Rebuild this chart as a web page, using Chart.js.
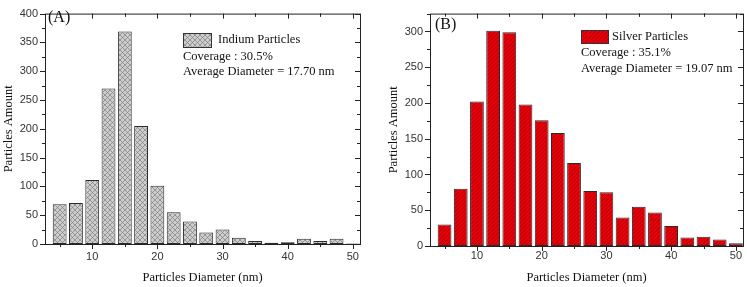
<!DOCTYPE html>
<html>
<head>
<meta charset="utf-8">
<script src="https://cdn.jsdelivr.net/npm/chart.js@4.4.0/dist/chart.umd.min.js"></script>
<style>
  html, body { margin: 0; padding: 0; background: #fff; }
  .wrap { position: absolute; top: 0; width: 372px; height: 287px; }
  #wrapA { left: 0; }
  #wrapB { left: 375px; }
</style>
</head>
<body>
<div class="wrap" id="wrapA"><canvas id="chartA" width="372" height="287"></canvas></div>
<div class="wrap" id="wrapB"><canvas id="chartB" width="372" height="287"></canvas></div>
<script>
// bin centres (nm)
const diameters = [5, 7.5, 10, 12.5, 15, 17.5, 20, 22.5, 25, 27.5, 30, 32.5, 35, 37.5, 40, 42.5, 45, 47.5, 50];
const indiumCounts = [69, 71, 111, 270, 369, 205, 101, 55, 39, 20, 25, 11, 5, 2, 3, 9, 5, 9, 1];
const silverCounts = [30, 80, 202, 301, 299, 198, 176, 158, 116, 77, 75, 40, 55, 47, 28, 12, 13, 9, 4];

const xTicks = [10, 20, 30, 40, 50];
const yTicksIndium = [0, 50, 100, 150, 200, 250, 300, 350, 400];
const yTicksSilver = [0, 50, 100, 150, 200, 250, 300];

const serif = "'Liberation Serif', 'Times New Roman', serif";
const sans = "'Liberation Sans', Arial, sans-serif";

function crossHatch() {
    const c = document.createElement('canvas');
    c.width = 5; c.height = 5;
    const g = c.getContext('2d');
    g.fillStyle = '#cdcdcd';
    g.fillRect(0, 0, 5, 5);
    g.strokeStyle = '#7c7c7c';
    g.lineWidth = 0.7;
    g.beginPath();
    g.moveTo(-1, -1); g.lineTo(6, 6);
    g.moveTo(6, -1); g.lineTo(-1, 6);
    g.stroke();
    return g.createPattern(c, 'repeat');
}

function redHatch() {
    const c = document.createElement('canvas');
    c.width = 4; c.height = 4;
    const g = c.getContext('2d');
    g.fillStyle = '#e4000a';
    g.fillRect(0, 0, 4, 4);
    g.strokeStyle = '#b00000';
    g.lineWidth = 0.8;
    g.beginPath();
    g.moveTo(-1, 5); g.lineTo(5, -1);
    g.moveTo(-1, 1); g.lineTo(1, -1);
    g.moveTo(3, 5); g.lineTo(5, 3);
    g.stroke();
    return g.createPattern(c, 'repeat');
}

// frame around plot area + Origin style tick marks
const framePlugin = {
    id: 'frame',
    afterDraw(chart) {
        const { ctx, chartArea: a, scales: { x, y } } = chart;
        ctx.save();
        ctx.strokeStyle = '#222';
        ctx.lineWidth = 1;
        ctx.strokeRect(a.left + 0.5, a.top + 0.5, a.right - a.left, a.bottom - a.top);
        ctx.beginPath();
        const xs = xTicks[1] - xTicks[0];
        xTicks.forEach(t => {
            [[t, 5], [t - xs / 2, 3], [t + xs / 2, 3]].forEach(([v, len]) => {
                if (v < x.min || v > x.max) return;
                const px = Math.round(x.getPixelForValue(v)) + 0.5;
                ctx.moveTo(px, a.bottom); ctx.lineTo(px, a.bottom + len);
                ctx.moveTo(px, a.top); ctx.lineTo(px, a.top + len);
            });
        });
        const yt = y.ticks.map(t => t.value);
        const ys = yt[1] - yt[0];
        yt.forEach(t => {
            [[t, 5], [t + ys / 2, 3]].forEach(([v, len]) => {
                if (v < y.min || v > y.max) return;
                const py = Math.round(y.getPixelForValue(v)) + 0.5;
                ctx.moveTo(a.left, py); ctx.lineTo(a.left - len, py);
                ctx.moveTo(a.right, py); ctx.lineTo(a.right - len, py);
            });
        });
        ctx.stroke();
        ctx.restore();
    }
};

// legend box + annotation text
const notePlugin = {
    id: 'note',
    afterDraw(chart, args, o) {
        const ctx = chart.ctx;
        ctx.save();
        ctx.fillStyle = '#111';
        ctx.textBaseline = 'middle';
        ctx.font = '16px ' + serif;
        ctx.fillText(o.tag, o.tagX, o.tagY);
        const ds = chart.data.datasets[0];
        ctx.fillStyle = ds.backgroundColor;
        ctx.fillRect(o.box[0], o.box[1], o.box[2], o.box[3]);
        ctx.strokeStyle = '#333';
        ctx.strokeRect(o.box[0] + 0.5, o.box[1] + 0.5, o.box[2], o.box[3]);
        ctx.fillStyle = '#111';
        ctx.font = '12.5px ' + serif;
        ctx.fillText(ds.label, o.labelX, o.labelY);
        o.lines.forEach((t, i) => ctx.fillText(t, o.box[0], o.lineY[i]));
        ctx.restore();
    }
};

function makeChart(id, counts, label, color, yMax, yTicks, pad, yWidth, xHeight, xTickPad, note) {
    const ctx = document.getElementById(id).getContext('2d');
    return new Chart(ctx, {
        type: 'bar',
        data: {
            datasets: [{
                label: label,
                data: diameters.map((d, i) => ({ x: d, y: counts[i] })),
                backgroundColor: color,
                borderColor: '#2a2a2a',
                borderWidth: 1,
                borderSkipped: false,
                categoryPercentage: 1,
                barPercentage: 0.85
            }]
        },
        options: {
            responsive: false,
            animation: false,
            layout: { padding: pad },
            plugins: { legend: { display: false }, tooltip: { enabled: false }, note: note },
            scales: {
                x: {
                    type: 'linear',
                    offset: false,
                    min: 2.75,
                    max: 51.1,
                    afterBuildTicks: s => { s.ticks = xTicks.map(v => ({ value: v })); },
                    afterFit: s => { s.height = xHeight; },
                    grid: { display: false, drawTicks: false },
                    border: { display: false },
                    ticks: { font: { family: sans, size: 11 }, color: '#333', padding: xTickPad, maxRotation: 0 },
                    title: { display: true, text: 'Particles Diameter (nm)', font: { family: serif, size: 12.5 }, color: '#111', padding: { top: 0, bottom: 2 } }
                },
                y: {
                    min: 0,
                    max: yMax,
                    afterBuildTicks: s => { s.ticks = yTicks.map(v => ({ value: v })); },
                    afterFit: s => { s.width = yWidth; },
                    grid: { display: false, drawTicks: false },
                    border: { display: false },
                    ticks: { font: { family: sans, size: 11 }, color: '#333', padding: 7 },
                    title: { display: true, text: 'Particles Amount', font: { family: serif, size: 12.5 }, color: '#111', padding: { top: 1, bottom: 0 } }
                }
            }
        },
        plugins: [framePlugin, notePlugin]
    });
}

makeChart('chartA', indiumCounts, 'Indium Particles', crossHatch(), 400, yTicksIndium,
    { left: 0, right: 12, top: 7, bottom: 0 }, 45, 43, 6,
    { tag: '(A)', tagX: 48, tagY: 18, box: [183, 33, 28, 14], labelX: 218, labelY: 40,
      lines: ['Coverage : 30.5%', 'Average Diameter = 17.70 nm'], lineY: [57, 72] });

makeChart('chartB', silverCounts, 'Silver Particles', redHatch(), 325, yTicksSilver,
    { left: 10, right: 4, top: 9, bottom: 0 }, 45, 41, 3,
    { tag: '(B)', tagX: 60, tagY: 25, box: [206, 30, 27, 13], labelX: 237, labelY: 37,
      lines: ['Coverage : 35.1%', 'Average Diameter = 19.07 nm'], lineY: [53, 69] });
</script>
</body>
</html>
